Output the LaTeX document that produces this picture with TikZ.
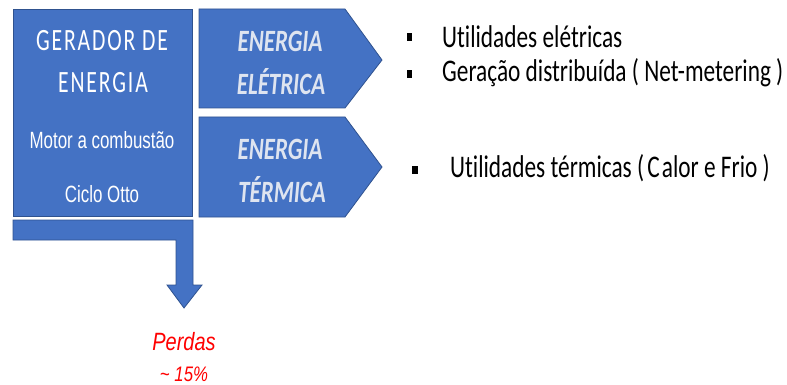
\documentclass[tikz,border=0pt]{standalone}
\usepackage{fontspec}
\setmainfont{Carlito}
\newfontfamily\calfont[FakeStretch=0.74, RawFeature=-liga]{Carlito}
\newfontfamily\lightfont[FakeStretch=0.7, LetterSpace=6, RawFeature=-liga]{Carlito}
\newfontfamily\narrowfont[FakeStretch=0.72]{Liberation Sans}
\newfontfamily\lossfont[FakeStretch=0.8]{Liberation Sans}
\usetikzlibrary{positioning}
\definecolor{blockblue}{HTML}{4472C4}
\definecolor{blockedge}{HTML}{2F528F}
\definecolor{labelgray}{RGB}{222,228,240}
\definecolor{lossred}{HTML}{FF0000}

\begin{document}
\begin{tikzpicture}[
        x=1pt, y=-1pt,
        block/.style={draw=blockedge, line width=0.8pt, fill=blockblue},
        gentext/.style={anchor=base, text=white, inner sep=0pt, font=\lightfont\fontsize{31}{31}\selectfont},
        smalltext/.style={anchor=base, text=white, inner sep=0pt, font=\narrowfont\fontsize{23.5}{23.5}\selectfont},
        energytext/.style={anchor=base, text=labelgray, inner sep=0pt, font=\calfont\fontsize{31}{31}\selectfont\bfseries\itshape},
        itemtext/.style={anchor=base west, inner sep=0pt, font=\calfont\fontsize{31.5}{31.5}\selectfont},
        bullet/.style={fill=black, inner sep=0pt, minimum width=5.5pt, minimum height=8pt},
        losstext/.style={anchor=base, text=lossred, inner sep=0pt, font=\lossfont\itshape}
    ]

    \useasboundingbox (0,0) rectangle (787,385);

    % Blocks
    \node[block, minimum width=179pt, minimum height=207pt, inner sep=0pt, anchor=north west] (gerador) at (13,9) {};
    \draw[block] (199,9) -- (345,9) -- (382,60) -- (345,108) -- (199,108) -- cycle;
    \draw[block] (199,117) -- (345,117) -- (382,167) -- (345,217) -- (199,217) -- cycle;

    % Texts in the blocks
    \node[gentext] (gerador1) at (102,51) {GERADOR DE};
    \node[gentext] (gerador2) at (103,93) {ENERGIA};
    \node[smalltext] (motor) at (102,149) {Motor a combustão};
    \node[smalltext] (ciclo) at (102,202) {Ciclo Otto};
    \node[energytext] (eletrica1) at (280,52) {ENERGIA};
    \node[energytext] (eletrica2) at (281,95) {ELÉTRICA};
    \node[energytext] (termica1) at (280,160) {ENERGIA};
    \node[energytext] (termica2) at (282,202) {TÉRMICA};

    % Losses
    \node[losstext, font=\lossfont\itshape\fontsize{25}{25}\selectfont] (perdas) at (184,350) {Perdas};
    \node[losstext, font=\lossfont\itshape\fontsize{21}{21}\selectfont] (pct) at (184,381) {\textasciitilde{} 15\%};
    \draw[block] (13,220) -- (193,220) -- (193,285) -- (202,285) -- (184,308)
        -- (167,285) -- (176,285) -- (176,240) -- (13,240) -- cycle;

    % Lists
    \node[bullet] (b1) at (409.5,37.5) {};
    \node[bullet] (b2) at (409.5,74) {};
    \node[bullet] (b3) at (415,170) {};
    \node[itemtext] (item1) at (442,48) {Utilidades elétricas};
    \node[itemtext] (item2) at (442,82) {Geração distribuída ( Net-metering )};
    \node[itemtext] (item3) at (450,178) {Utilidades térmicas (\hspace{-2pt} C\hspace{2pt}alor e Frio )};

\end{tikzpicture}
\end{document}
